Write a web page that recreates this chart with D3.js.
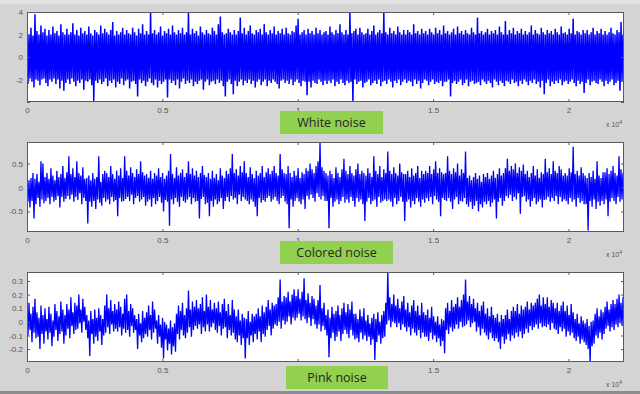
<!DOCTYPE html>
<html>
<head>
<meta charset="utf-8">
<script src="https://cdn.jsdelivr.net/npm/d3@7"></script>
<style>
  html, body { margin: 0; padding: 0; background: #d4d4d4; }
  svg { display: block; }
</style>
</head>
<body>
<svg id="chart" width="640" height="394"></svg>
<script>
// Sample count of each recording and x-axis ticks (scaled by 10^4 in the labels)
const sampleCount = 22050;
const xTicks = [0, 5000, 10000, 15000, 20000];

// Alternating per-column peak / trough of each recording, left to right
const whiteNoise = [
  2.1,-2.4,2.0,-1.9,2.6,-2.2,1.9,-2.7,3.8,-2.0,2.3,-2.1,2.0,-2.5,2.8,-2.0,2.2,-1.9,2.5,-2.3,
  1.9,-2.6,2.4,-2.0,2.0,-2.2,2.7,-1.9,2.1,-2.4,2.3,-2.0,1.9,-2.8,2.9,-2.1,2.2,-3.0,2.0,-2.3,
  2.5,-2.0,2.0,-2.4,2.2,-1.9,3.0,-2.2,2.0,-2.6,2.4,-2.1,1.9,-2.3,2.6,-2.0,2.1,-2.9,2.3,-2.1,
  2.0,-2.2,2.7,-2.0,2.1,-2.5,1.9,-3.9,2.4,-2.1,2.2,-2.3,2.0,-2.0,2.8,-2.4,2.1,-2.2,2.5,-1.9,
  2.2,-2.6,2.0,-2.1,2.4,-2.3,3.1,-2.0,1.9,-2.7,2.3,-2.2,2.0,-2.4,2.2,-1.9,2.6,-2.5,2.0,-2.1,
  2.4,-2.0,2.1,-2.8,2.0,-2.2,2.6,-2.1,2.2,-2.4,1.9,-3.5,2.5,-2.0,2.1,-2.3,2.9,-2.1,2.0,-2.6,
  2.3,-2.2,2.0,-1.9,4.0,-2.3,2.1,-2.5,2.4,-2.0,2.0,-2.7,2.2,-2.1,2.7,-2.4,1.9,-2.2,2.3,-2.0,
  2.1,-3.6,2.5,-2.0,2.0,-2.3,2.8,-2.1,2.2,-2.5,2.0,-2.0,2.4,-2.8,2.1,-2.2,2.6,-1.9,2.0,-2.4,
  2.2,-2.1,4.0,-2.3,2.0,-2.0,2.5,-2.6,2.1,-2.2,2.3,-2.4,1.9,-2.1,2.7,-2.0,2.2,-2.9,2.0,-2.2,
  2.4,-2.0,2.1,-2.5,2.0,-2.2,2.6,-2.1,2.3,-2.4,2.0,-2.0,2.9,-2.3,3.6,-2.1,2.2,-2.6,2.0,-3.5,
  2.1,-2.2,2.5,-2.0,2.2,-2.4,2.0,-3.3,2.4,-2.1,2.0,-2.6,2.3,-2.2,3.5,-2.0,2.1,-2.5,2.6,-2.1,
  2.0,-2.3,2.3,-2.0,2.8,-2.4,2.1,-2.1,2.0,-2.7,2.4,-2.2,2.2,-2.0,2.5,-2.5,2.0,-2.2,2.9,-2.0,
  2.2,-2.6,2.0,-2.1,2.4,-2.3,2.1,-2.0,2.7,-2.2,2.0,-2.4,2.3,-2.8,2.1,-2.1,2.5,-2.0,2.0,-2.3,
  2.6,-2.1,2.1,-2.4,2.0,-2.0,2.3,-2.5,2.2,-2.2,2.8,-2.0,3.4,-2.3,2.0,-2.6,2.2,-2.1,2.4,-2.2,
  2.0,-3.4,2.5,-2.2,2.1,-2.7,2.3,-2.1,2.0,-2.3,2.6,-2.4,2.1,-2.0,2.4,-2.2,2.0,-2.5,2.2,-2.1,
  2.3,-2.4,2.0,-2.1,2.7,-2.3,2.2,-2.0,2.0,-2.6,2.4,-2.2,2.1,-2.4,2.9,-2.0,2.2,-2.3,2.0,-2.5,
  2.4,-2.1,2.0,-2.3,4.0,-2.2,2.1,-4.0,2.3,-2.0,2.5,-2.4,2.0,-2.2,2.6,-2.1,2.2,-2.7,2.0,-2.3,
  2.1,-2.2,2.5,-2.0,2.0,-2.5,2.3,-2.3,2.8,-2.1,2.0,-2.4,2.2,-2.0,2.4,-2.6,2.1,-2.2,4.0,-2.1,
  2.2,-2.4,2.0,-2.0,2.6,-2.2,2.1,-2.7,2.3,-2.1,2.0,-2.3,2.7,-2.0,2.2,-2.5,2.0,-2.2,2.4,-2.0,
  2.0,-2.3,2.4,-2.1,2.2,-2.2,2.0,-2.6,2.9,-2.0,2.1,-2.4,2.3,-2.1,2.0,-2.8,2.5,-2.3,2.1,-2.0,
  2.3,-2.1,2.0,-2.5,2.5,-2.2,2.2,-2.0,2.0,-2.4,2.6,-2.2,2.1,-2.3,2.4,-2.1,2.0,-2.6,2.8,-2.2,
  2.1,-2.2,2.3,-2.0,2.0,-3.5,2.2,-2.3,2.5,-2.1,2.0,-2.4,2.7,-2.2,2.1,-2.0,2.3,-2.5,2.0,-2.3,
  2.4,-2.0,2.1,-2.6,2.0,-2.2,2.6,-2.1,2.2,-2.4,2.0,-2.3,3.5,-2.2,2.1,-2.5,2.3,-2.0,2.0,-2.2,
  2.2,-2.4,2.5,-2.1,2.0,-2.3,2.3,-2.7,2.1,-2.0,2.4,-2.2,2.0,-2.5,2.7,-2.1,2.2,-2.3,2.0,-2.6,
  3.2,-2.1,2.0,-2.2,2.4,-2.4,2.1,-2.0,2.6,-2.3,2.0,-2.2,2.3,-2.6,2.1,-2.1,2.5,-2.4,2.0,-2.0,
  2.3,-2.2,2.0,-2.5,2.2,-2.1,2.8,-2.3,2.0,-2.0,2.4,-2.4,2.1,-2.2,2.0,-2.7,2.6,-2.1,2.2,-3.3,
  2.0,-2.3,2.4,-2.0,2.1,-2.6,2.3,-2.2,2.0,-2.4,2.5,-2.1,2.2,-2.3,2.0,-2.0,2.7,-2.5,2.1,-2.2,
  2.2,-2.1,2.0,-2.4,2.5,-2.2,2.1,-2.0,3.4,-2.3,2.0,-2.6,2.3,-2.1,2.2,-2.4,2.0,-2.2,2.4,-3.2,
  2.1,-2.3,2.4,-2.0,2.0,-2.5,2.2,-2.2,2.6,-2.1,2.0,-2.3,2.3,-2.4,2.1,-2.0,2.5,-2.2,2.0,-2.6,
  2.3,-2.1,2.0,-2.4,2.2,-2.2,2.6,-2.0,2.1,-2.5,2.0,-2.3,2.4,-2.1,2.2,-3.0,3.1,-2.2,2.0,-2.4
];

const coloredNoise = [
  0.25,-0.30,0.15,-0.42,0.20,-0.28,0.30,-0.65,0.18,-0.35,0.28,-0.22,0.12,-0.40,0.55,-0.25,0.50,-0.33,0.22,-0.28,
  0.30,-0.22,0.18,-0.35,0.40,-0.20,0.25,-0.30,0.15,-0.26,0.35,-0.18,0.22,-0.42,0.28,-0.20,0.45,-0.30,0.20,-0.24,
  0.32,-0.18,0.65,-0.25,0.28,-0.15,0.40,-0.30,0.22,-0.20,0.55,-0.26,0.30,-0.12,0.25,-0.35,0.42,-0.22,0.18,-0.28,
  0.20,-0.75,0.25,-0.30,0.15,-0.40,0.30,-0.28,0.18,-0.45,0.22,-0.25,0.65,-0.32,0.12,-0.38,0.28,-0.22,0.35,-0.30,
  0.30,-0.25,0.22,-0.35,0.45,-0.20,0.28,-0.30,0.18,-0.26,0.35,-0.60,0.25,-0.22,0.40,-0.30,0.20,-0.28,0.65,-0.24,
  0.35,-0.20,0.25,-0.28,0.42,-0.15,0.30,-0.35,0.22,-0.22,0.38,-0.18,0.28,-0.30,0.55,-0.25,0.32,-0.20,0.25,-0.38,
  0.28,-0.30,0.20,-0.25,0.35,-0.40,0.18,-0.22,0.30,-0.35,0.25,-0.28,0.40,-0.20,0.22,-0.32,0.30,-0.50,0.18,-0.26,
  0.25,-0.30,0.35,-0.80,0.70,-0.25,0.28,-0.35,0.20,-0.22,0.42,-0.30,0.25,-0.40,0.30,-0.20,0.38,-0.28,0.22,-0.32,
  0.30,-0.25,0.55,-0.20,0.28,-0.35,0.40,-0.22,0.25,-0.30,0.35,-0.28,0.22,-0.65,0.30,-0.24,0.45,-0.20,0.26,-0.35,
  0.22,-0.32,0.30,-0.60,0.18,-0.28,0.35,-0.40,0.20,-0.25,0.28,-0.35,0.15,-0.30,0.40,-0.22,0.25,-0.45,0.20,-0.28,
  0.35,-0.20,0.28,-0.30,0.40,-0.18,0.70,-0.25,0.30,-0.22,0.38,-0.35,0.25,-0.15,0.45,-0.28,0.32,-0.20,0.55,-0.25,
  0.30,-0.28,0.22,-0.35,0.42,-0.25,0.28,-0.30,0.20,-0.40,0.35,-0.60,0.25,-0.22,0.30,-0.32,0.45,-0.26,0.22,-0.30,
  0.32,-0.22,0.40,-0.18,0.28,-0.30,0.35,-0.25,0.45,-0.20,0.30,-0.28,0.25,-0.35,0.70,-0.22,0.38,-0.18,0.30,-0.30,
  0.28,-0.35,0.45,-0.85,0.30,-0.25,0.22,-0.40,0.35,-0.28,0.25,-0.22,0.40,-0.30,0.20,-0.35,0.32,-0.25,0.28,-0.45,
  0.40,-0.18,0.35,-0.25,0.50,-0.15,0.38,-0.22,0.30,-0.30,0.45,-0.12,0.55,-0.20,0.95,-0.25,0.42,-0.18,0.35,-0.28,
  0.30,-0.28,0.25,-0.85,0.35,-0.22,0.28,-0.40,0.20,-0.30,0.42,-0.25,0.30,-0.35,0.22,-0.28,0.38,-0.20,0.60,-0.32,
  0.35,-0.25,0.28,-0.32,0.45,-0.20,0.30,-0.28,0.25,-0.40,0.38,-0.22,0.50,-0.30,0.28,-0.25,0.35,-0.35,0.30,-0.70,
  0.25,-0.30,0.40,-0.22,0.30,-0.35,0.22,-0.28,0.65,-0.25,0.35,-0.40,0.28,-0.20,0.45,-0.32,0.22,-0.28,0.38,-0.25,
  0.30,-0.28,0.75,-0.25,0.35,-0.30,0.28,-0.40,0.42,-0.22,0.30,-0.35,0.25,-0.28,0.50,-0.20,0.32,-0.30,0.28,-0.70,
  0.28,-0.30,0.35,-0.25,0.22,-0.42,0.40,-0.28,0.25,-0.35,0.30,-0.22,0.45,-0.30,0.20,-0.40,0.35,-0.25,0.28,-0.32,
  0.35,-0.22,0.30,-0.28,0.45,-0.20,0.28,-0.35,0.38,-0.18,0.55,-0.25,0.30,-0.30,0.40,-0.60,0.32,-0.22,0.28,-0.26,
  0.30,-0.28,0.65,-0.22,0.35,-0.30,0.28,-0.45,0.40,-0.25,0.32,-0.20,0.50,-0.35,0.25,-0.28,0.38,-0.30,0.30,-0.22,
  0.75,-0.35,0.20,-0.40,0.25,-0.30,0.15,-0.45,0.22,-0.38,0.30,-0.28,0.18,-0.50,0.25,-0.35,0.12,-0.42,0.28,-0.30,
  0.22,-0.35,0.30,-0.28,0.18,-0.40,0.25,-0.32,0.35,-0.25,0.20,-0.65,0.28,-0.30,0.40,-0.22,0.25,-0.38,0.30,-0.28,
  0.40,-0.18,0.60,-0.22,0.35,-0.15,0.45,-0.28,0.38,-0.20,0.50,-0.25,0.30,-0.12,0.42,-0.55,0.35,-0.20,0.48,-0.18,
  0.28,-0.30,0.35,-0.25,0.22,-0.40,0.30,-0.28,0.45,-0.22,0.25,-0.35,0.38,-0.30,0.20,-0.25,0.32,-0.42,0.28,-0.26,
  0.60,-0.25,0.32,-0.20,0.40,-0.30,0.28,-0.22,0.55,-0.28,0.35,-0.18,0.30,-0.35,0.45,-0.20,0.38,-0.30,0.25,-0.25,
  0.30,-0.28,0.25,-0.35,0.40,-0.22,0.32,-0.30,0.85,-0.25,0.28,-0.40,0.35,-0.22,0.25,-0.32,0.42,-0.28,0.30,-0.35,
  0.25,-0.35,0.20,-0.90,0.30,-0.28,0.22,-0.40,0.35,-0.25,0.18,-0.45,0.55,-0.30,0.25,-0.38,0.20,-0.28,0.32,-0.35,
  0.32,-0.25,0.40,-0.60,0.28,-0.30,0.35,-0.22,0.45,-0.28,0.30,-0.35,0.25,-0.20,0.65,-0.30,0.38,-0.25,0.30,-0.28
];

const pinkNoise = [
  0.09,-0.10,0.14,-0.06,0.06,-0.15,0.11,-0.08,0.17,-0.12,
  0.07,-0.11,0.03,-0.20,0.12,-0.09,0.05,-0.16,0.10,-0.07,
  0.02,-0.13,0.11,-0.08,0.06,-0.18,0.01,-0.11,0.13,-0.06,
  0.08,-0.14,0.04,-0.09,0.15,-0.07,0.09,-0.16,0.05,-0.10,
  0.13,-0.05,0.09,-0.12,0.18,-0.03,0.07,-0.09,0.14,-0.06,
  0.12,-0.05,0.20,-0.01,0.09,-0.08,0.17,0.00,0.11,-0.06,
  0.05,-0.12,0.01,-0.25,0.08,-0.09,0.02,-0.16,0.09,-0.11,
  0.03,-0.14,0.10,-0.07,0.05,-0.17,0.02,-0.10,0.12,-0.08,
  0.20,-0.04,0.10,-0.09,0.16,-0.02,0.08,-0.07,0.13,-0.05,
  0.09,-0.07,0.15,-0.04,0.11,-0.10,0.06,-0.05,0.17,-0.08,
  0.20,-0.06,0.08,-0.11,0.13,-0.03,0.10,-0.08,0.05,-0.06,
  0.02,-0.20,0.06,-0.10,-0.01,-0.15,0.08,-0.12,0.03,-0.09,
  0.07,-0.11,0.12,-0.06,0.05,-0.13,0.15,-0.08,0.09,-0.05,
  0.01,-0.16,0.05,-0.11,-0.02,-0.19,0.03,-0.27,0.00,-0.13,
  -0.02,-0.21,-0.05,-0.16,0.01,-0.24,-0.04,-0.18,-0.01,-0.22,
  0.06,-0.09,0.12,-0.13,0.08,-0.06,0.14,-0.10,0.05,-0.12,
  0.10,-0.08,0.23,-0.04,0.09,-0.11,0.15,-0.06,0.11,-0.03,
  0.16,-0.05,0.10,-0.02,0.13,-0.09,0.18,-0.04,0.08,-0.07,
  0.20,-0.02,0.11,-0.07,0.16,-0.04,0.09,-0.01,0.14,-0.06,
  0.10,-0.08,0.15,-0.03,0.07,-0.10,0.13,-0.05,0.17,-0.04,
  0.08,-0.12,0.13,-0.06,0.05,-0.10,0.16,-0.08,0.09,-0.13,
  0.04,-0.15,0.09,-0.10,0.01,-0.17,0.06,-0.12,0.03,-0.27,
  0.02,-0.12,0.08,-0.17,0.00,-0.10,0.06,-0.15,0.04,-0.09,
  0.06,-0.13,0.10,-0.07,0.04,-0.15,0.12,-0.09,0.07,-0.11,
  0.11,-0.06,0.16,-0.03,0.09,-0.10,0.14,-0.05,0.12,-0.02,
  0.13,-0.03,0.18,0.00,0.31,-0.05,0.15,0.01,0.19,-0.02,
  0.18,0.00,0.22,0.04,0.15,-0.02,0.20,0.03,0.24,0.01,
  0.19,0.03,0.24,0.06,0.17,0.01,0.22,0.04,0.32,0.02,
  0.16,-0.01,0.21,0.03,0.14,-0.03,0.19,0.02,0.17,-0.02,
  0.12,-0.05,0.16,-0.02,0.27,-0.07,0.10,-0.03,0.14,-0.06,
  0.05,-0.10,0.09,-0.26,0.03,-0.12,0.11,-0.08,0.06,-0.14,
  0.08,-0.11,0.12,-0.07,0.05,-0.14,0.10,-0.09,0.14,-0.06,
  0.07,-0.09,0.13,-0.12,0.09,-0.06,0.15,-0.10,0.06,-0.13,
  0.06,-0.12,0.02,-0.15,0.09,-0.08,0.04,-0.13,0.10,-0.10,
  0.01,-0.14,0.05,-0.11,-0.01,-0.17,0.03,-0.13,0.06,-0.28,
  0.02,-0.15,0.07,-0.10,0.00,-0.16,0.05,-0.12,0.08,-0.11,
  0.14,-0.02,0.37,0.01,0.18,-0.04,0.13,0.00,0.20,-0.01,
  0.12,-0.04,0.17,-0.01,0.10,-0.06,0.15,-0.02,0.19,-0.04,
  0.09,-0.07,0.14,-0.04,0.07,-0.10,0.12,-0.05,0.16,-0.08,
  0.08,-0.10,0.12,-0.06,0.05,-0.12,0.14,-0.08,0.07,-0.11,
  0.05,-0.11,0.09,-0.14,0.03,-0.08,0.11,-0.13,0.04,-0.10,
  0.00,-0.15,0.04,-0.12,-0.02,-0.18,0.02,-0.14,0.01,-0.23,
  0.10,-0.06,0.14,-0.09,0.08,-0.04,0.16,-0.07,0.11,-0.05,
  0.13,-0.02,0.18,-0.05,0.11,0.00,0.16,-0.04,0.20,-0.03,
  0.31,-0.02,0.15,0.01,0.19,-0.04,0.13,-0.01,0.17,0.00,
  0.10,-0.07,0.14,-0.04,0.08,-0.10,0.12,-0.05,0.15,-0.08,
  0.06,-0.10,0.10,-0.13,0.04,-0.08,0.11,-0.12,0.05,-0.14,
  0.03,-0.12,0.06,-0.15,0.00,-0.20,0.05,-0.11,0.02,-0.16,
  0.05,-0.13,0.09,-0.09,0.02,-0.14,0.08,-0.10,0.11,-0.12,
  0.08,-0.08,0.13,-0.11,0.06,-0.07,0.12,-0.12,0.09,-0.09,
  0.11,-0.05,0.15,-0.08,0.09,-0.03,0.14,-0.06,0.12,-0.04,
  0.14,-0.02,0.17,-0.05,0.20,-0.01,0.12,-0.04,0.18,-0.03,
  0.13,-0.04,0.18,-0.02,0.11,-0.06,0.16,-0.01,0.14,-0.05,
  0.10,-0.06,0.14,-0.09,0.08,-0.04,0.12,-0.07,0.15,-0.05,
  0.08,-0.11,0.12,-0.07,0.05,-0.10,0.13,-0.08,0.07,-0.12,
  0.02,-0.14,0.06,-0.11,-0.01,-0.16,0.04,-0.13,0.01,-0.15,
  -0.01,-0.17,0.02,-0.20,-0.03,-0.30,0.00,-0.18,0.01,-0.16,
  0.06,-0.10,0.10,-0.12,0.04,-0.08,0.09,-0.13,0.07,-0.09,
  0.11,-0.05,0.15,-0.03,0.09,-0.07,0.13,-0.04,0.16,-0.06,
  0.13,-0.02,0.17,-0.04,0.20,-0.01,0.14,-0.03,0.18,-0.05
];

// Y-axis tick values and labels of each panel
const whiteTicks = [-4, -2, 0, 2, 4];
const whiteTickLabels = ["", "-2", "0", "2", "4"];
const coloredTicks = [-0.5, 0, 0.5];
const coloredTickLabels = ["-0.5", "0", "0.5"];
const pinkTicks = [-0.2, -0.1, 0, 0.1, 0.2, 0.3];
const pinkTickLabels = ["-0.2", "-0.1", "0", "0.1", "0.2", "0.3"];

// Panel titles
const titles = ["White noise", "Colored noise", "Pink noise"];

const svg = d3.select("#chart");
const W = 640, H = 394;

// window frame
svg.append("rect").attr("x", 0).attr("y", 0).attr("width", W).attr("height", H).attr("fill", "#d4d4d4");
svg.append("rect").attr("x", 0).attr("y", 0).attr("width", W).attr("height", 4).attr("fill", "#e2e2e2");
svg.append("rect").attr("x", 0).attr("y", 391).attr("width", W).attr("height", 3).attr("fill", "#8c8c8c");

const left = 27, right = 624;
const x = d3.scaleLinear().domain([0, sampleCount]).range([left, right]);

const panels = [
  { values: whiteNoise, domain: [-4, 4], ticks: whiteTicks, tickLabels: whiteTickLabels,
    top: 12, bottom: 102, title: titles[0], box: [280, 111, 103, 23], stroke: 1.5 },
  { values: coloredNoise, domain: [-0.93, 0.95], ticks: coloredTicks, tickLabels: coloredTickLabels,
    top: 142, bottom: 232, title: titles[1], box: [280, 241, 113, 23], stroke: 1.3 },
  { values: pinkNoise, domain: [-0.295, 0.366], ticks: pinkTicks, tickLabels: pinkTickLabels,
    top: 272, bottom: 362, title: titles[2], box: [286, 366, 102, 23], stroke: 1.3 }
];

const axisColor = "#5a5a5a";
const labelColor = "#555";
const fontFamily = "'Liberation Sans', Arial, sans-serif";

panels.forEach((p, k) => {
  const y = d3.scaleLinear().domain(p.domain).range([p.bottom, p.top]);
  const g = svg.append("g");

  // plotting area
  g.append("rect")
    .attr("x", left).attr("y", p.top)
    .attr("width", right - left).attr("height", p.bottom - p.top)
    .attr("fill", "#fff");

  const clipId = "clip" + k;
  svg.append("clipPath").attr("id", clipId)
    .append("rect")
    .attr("x", left).attr("y", p.top)
    .attr("width", right - left).attr("height", p.bottom - p.top);

  // the signal trace
  const step = sampleCount / (p.values.length - 1);
  const line = d3.line()
    .x((d, i) => x(i * step))
    .y(d => y(d));
  g.append("path")
    .datum(p.values)
    .attr("clip-path", `url(#${clipId})`)
    .attr("d", line)
    .attr("fill", "none")
    .attr("stroke", "#0000ff")
    .attr("stroke-width", p.stroke)
    .attr("stroke-linejoin", "bevel");

  // axes with inward ticks on all four sides
  const xAxis = d3.axisBottom(x).tickValues(xTicks)
    .tickSizeInner(-3).tickSizeOuter(0).tickPadding(5)
    .tickFormat(d => d3.format("~g")(d / 1e4));
  const gx = g.append("g").attr("transform", `translate(0,${p.bottom})`).call(xAxis);
  const xTop = d3.axisTop(x).tickValues(xTicks).tickSizeInner(-3).tickSizeOuter(0).tickFormat("");
  const gxt = g.append("g").attr("transform", `translate(0,${p.top})`).call(xTop);

  const yAxis = d3.axisLeft(y).tickValues(p.ticks)
    .tickSizeInner(-3).tickSizeOuter(0).tickPadding(4)
    .tickFormat((d, i) => p.tickLabels[i]);
  const gy = g.append("g").attr("transform", `translate(${left},0)`).call(yAxis);
  const yRight = d3.axisRight(y).tickValues(p.ticks).tickSizeInner(-3).tickSizeOuter(0).tickFormat("");
  const gyr = g.append("g").attr("transform", `translate(${right},0)`).call(yRight);

  [gx, gxt, gy, gyr].forEach(a => {
    a.select(".domain").remove();
    a.selectAll(".tick line").attr("stroke", axisColor).attr("stroke-width", 1);
    a.selectAll(".tick text").attr("fill", labelColor)
      .style("font-family", fontFamily).style("font-size", "8px");
  });

  // box outline
  g.append("rect")
    .attr("x", left + 0.5).attr("y", p.top + 0.5)
    .attr("width", right - left - 1).attr("height", p.bottom - p.top - 1)
    .attr("fill", "none").attr("stroke", axisColor).attr("stroke-width", 1);

  // exponent note for the x axis
  const ex = g.append("text")
    .attr("x", 606).attr("y", p.bottom + 25)
    .attr("fill", labelColor)
    .style("font-family", fontFamily).style("font-size", "7px");
  ex.append("tspan").text("x 10");
  ex.append("tspan").attr("dy", -3).style("font-size", "5px").text("4");

  // panel title on a green tag
  const [bx, by, bw, bh] = p.box;
  g.append("rect").attr("x", bx).attr("y", by).attr("width", bw).attr("height", bh)
    .attr("fill", "#92d050");
  g.append("text")
    .attr("x", bx + bw / 2).attr("y", by + bh / 2 + 4.5)
    .attr("text-anchor", "middle")
    .attr("fill", "#262626")
    .style("font-family", "'Open Sans', 'Noto Sans', sans-serif")
    .style("font-size", "12.5px")
    .text(p.title);
});
</script>
</body>
</html>
